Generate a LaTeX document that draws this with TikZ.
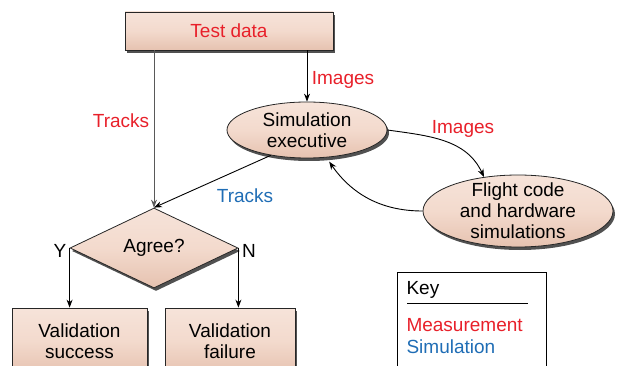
\documentclass[tikz,border=0pt]{standalone}
\usepackage{fontspec}
\setmainfont{Liberation Sans}
\usetikzlibrary{shapes.geometric,shadows,arrows.meta}
\definecolor{peach}{HTML}{F3DACD}
\definecolor{peachdark}{HTML}{E6C2B0}
\definecolor{measred}{HTML}{E8202A}
\definecolor{simblue}{HTML}{1F6DB5}
\begin{document}
\begin{tikzpicture}[x=1pt,y=1pt,
  every node/.style={font=\fontsize{19}{21}\selectfont},
  block/.style={draw=black!85,line width=0.8pt,top color=peach!75,bottom color=peachdark,middle color=peach,
    drop shadow={shadow xshift=2pt,shadow yshift=-3pt,fill=black!80,opacity=0.85}},
  oval/.style={block,ellipse,align=center,inner sep=0pt},
  flow/.style={-{Stealth[length=8pt,width=6pt]},line width=0.9pt}]
\useasboundingbox (0,0) rectangle (618,-366);
% boxes
\node[block,minimum width=208pt,minimum height=38pt] (testdata) at (229,-31) {\color{measred}Test data};
\node[oval,minimum width=160pt,minimum height=56pt] (simexec) at (307,-130) {Simulation\\executive};
\node[oval,minimum width=190pt,minimum height=72pt,inner ysep=-7pt] (flight) at (518,-211) {Flight code\\and hardware\\simulations};
\node[block,diamond,aspect=2,inner sep=0pt,minimum width=168pt,minimum height=80pt] (agree) at (154,-248) {Agree?};
\node[block,align=center,minimum width=135pt,minimum height=66pt] (success) at (79.5,-341) {Validation\\success};
\node[block,align=center,minimum width=130pt,minimum height=66pt] (failure) at (230,-341) {Validation\\failure};
% connectors
\draw[flow,black!65] (testdata.south -| agree.north) -- (agree.north);
\draw[flow] (testdata.south -| simexec.north) -- (simexec.north);
\draw[flow] (simexec.215) -- (agree.north);
\draw[flow] (simexec.east) to[out=-8,in=115] (flight.135);
\draw[flow,shorten >=5pt] (flight.west) to[out=180,in=-55] (simexec.305);
\draw[flow] (agree.west) -- (agree.west |- success.north);
\draw[flow] (agree.east) -- (agree.east |- failure.north);
% labels
\node[measred] (trackslbl) at (121,-121) {Tracks};
\node[measred] (imageslbl) at (343,-80) {Images};
\node[measred] (imageslbl2) at (463,-129) {Images};
\node[simblue] (simtracks) at (245,-196) {Tracks};
\node (yes) at (60,-251) {Y};
\node (no) at (249,-251) {N};
% key
\node[draw,line width=0.8pt,anchor=north west,minimum width=149pt,minimum height=110pt] (keybox) at (397,-272) {};
\node[anchor=west] (keytitle) at (403,-290) {Key};
\draw[line width=0.8pt] (407,-303) -- (528,-303);
\node[anchor=west,measred] (keymeas) at (403,-325) {Measurement};
\node[anchor=west,simblue] (keysim) at (403,-347) {Simulation};
\end{tikzpicture}
\end{document}
